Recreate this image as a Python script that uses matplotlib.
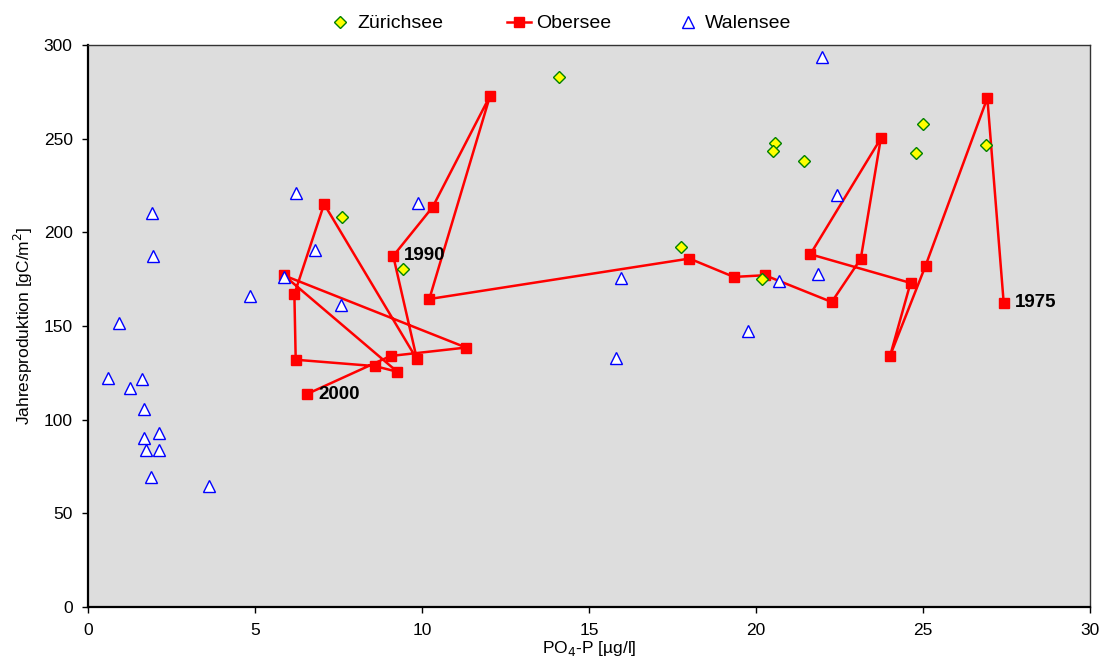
import matplotlib
matplotlib.use("Agg")
import matplotlib.pyplot as plt
from matplotlib.lines import Line2D

plt.rcParams['font.family'] = ['Liberation Sans', 'DejaVu Sans']

# Zürichsee
zuerich_po4 = [14.10, 20.57, 20.51, 21.43, 17.77, 20.19, 24.99, 24.79, 26.88, 7.60, 9.42]
zuerich_prod = [283.1, 247.9, 243.6, 238.3, 192.0, 174.9, 257.6, 242.3, 246.6, 208.4, 180.4]

# Obersee, chronological 1975 .. 2000
obersee_years = list(range(1975, 2001))
obersee_po4 = [27.42, 26.93, 25.08, 24.02, 24.63, 21.63, 23.74, 23.14, 22.27, 20.27,
               19.34, 18.01, 10.22, 12.04, 10.32, 9.14, 9.85, 7.07, 6.18, 6.22,
               8.59, 9.26, 5.87, 11.32, 9.06, 6.56]
obersee_prod = [162.3, 271.7, 182.2, 134.2, 173.0, 188.3, 250.1, 185.9, 162.8, 177.1,
                176.2, 186.0, 164.4, 272.9, 213.5, 187.4, 132.2, 215.1, 167.0, 132.0,
                128.6, 125.6, 177.0, 138.5, 134.0, 113.7]
labelled_years = [1975, 1990, 2000]

# Walensee
walen_po4 = [0.60, 0.93, 1.25, 1.61, 1.68, 1.68, 1.75, 2.12, 2.12, 1.88, 1.92, 1.96,
             3.61, 4.86, 5.87, 6.22, 6.79, 7.58, 9.89, 15.96, 15.82, 19.76, 20.70,
             21.85, 22.42, 21.97]
walen_prod = [122.2, 151.8, 116.9, 121.7, 105.5, 90.1, 83.8, 83.8, 92.7, 69.2, 210.2, 187.6,
              64.8, 166.2, 176.3, 220.8, 190.6, 161.0, 215.5, 175.5, 132.7, 147.5, 174.0,
              177.6, 220.0, 293.8]

x_ticks = [0, 5, 10, 15, 20, 25, 30]
y_ticks = [0, 50, 100, 150, 200, 250, 300]

fig = plt.figure(figsize=(11.04, 6.59), dpi=100)
ax = fig.add_axes([0.0797, 0.0789, 0.9075, 0.8528])
ax.set_facecolor('#DDDDDD')

ax.plot(obersee_po4, obersee_prod, color='#FF0000', lw=1.8, marker='s', ms=7,
        mfc='#FF0000', mec='#FF0000', zorder=3)
ax.plot(zuerich_po4, zuerich_prod, ls='none', marker='D', ms=6.4,
        mfc='#FFFF00', mec='#008000', mew=1.0, zorder=4)
ax.plot(walen_po4, walen_prod, ls='none', marker='^', ms=8.5,
        mfc='white', mec='#0000FF', mew=1.0, zorder=4)

for yr, x, y in zip(obersee_years, obersee_po4, obersee_prod):
    if yr in labelled_years:
        ax.annotate(str(yr), (x, y), xytext=(8, 0), textcoords='offset points',
                    ha='left', va='center', fontsize=13.5, fontweight='bold', color='black')

ax.set_xlim(0, 30)
ax.set_ylim(0, 300)
ax.set_xticks(x_ticks)
ax.set_yticks(y_ticks)
ax.tick_params(axis='both', direction='out', length=4.5, width=1, labelsize=12.5,
               color='black', labelcolor='black')
ax.tick_params(axis='x', pad=7)
ax.tick_params(axis='y', pad=6.5)
for side in ['left', 'bottom']:
    ax.spines[side].set_linewidth(1.6)
    ax.spines[side].set_color('black')
for side in ['top', 'right']:
    ax.spines[side].set_linewidth(1.0)
    ax.spines[side].set_color('#333333')

ax.set_xlabel('PO$_4$-P [µg/l]', fontsize=12.5, labelpad=0.5)
ax.set_ylabel('Jahresproduktion [gC/m$^2$]', fontsize=12.5, labelpad=6)

handles = [
    Line2D([], [], ls='none', marker='D', ms=6.4, mfc='#FFFF00', mec='#008000'),
    Line2D([], [], color='#FF0000', lw=1.8, marker='s', ms=7, mfc='#FF0000', mec='#FF0000'),
    Line2D([], [], ls='none', marker='^', ms=8.5, mfc='white', mec='#0000FF'),
]
fig.legend(handles, ['Zürichsee', 'Obersee', 'Walensee'], loc='upper center',
           bbox_to_anchor=(0.507, 1.004), ncol=3, frameon=False, fontsize=14,
           columnspacing=3.3, handlelength=1.2, handletextpad=0.3)

fig.savefig('out.png', dpi=100)
